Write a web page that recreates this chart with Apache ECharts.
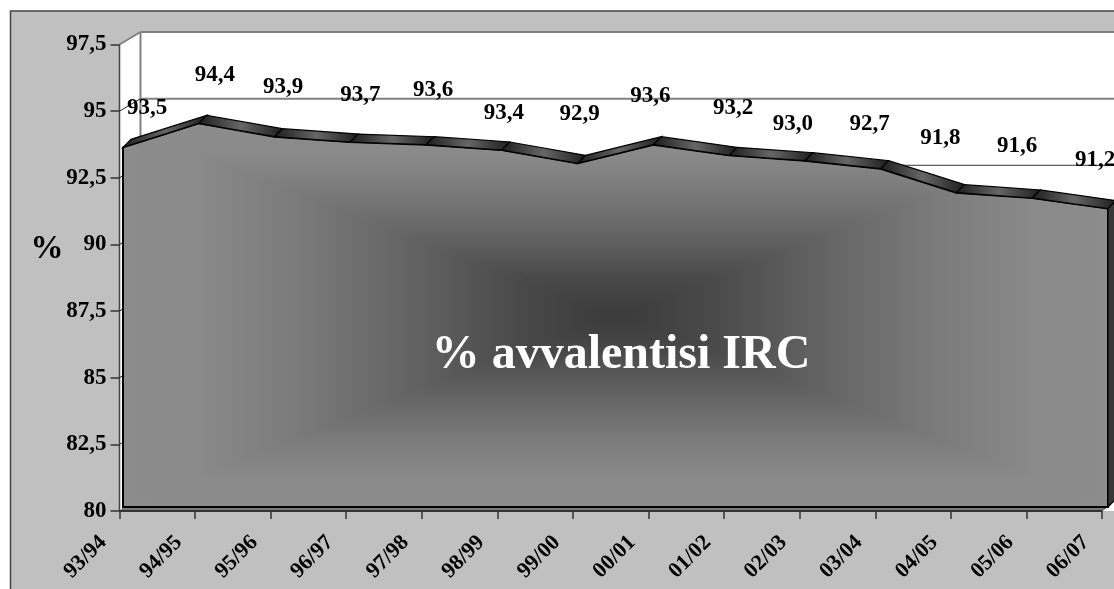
<!DOCTYPE html>
<html><head><meta charset="utf-8">
<style>html,body{margin:0;padding:0;background:#fff}#c{width:1114px;height:589px}</style>
<script src="https://cdn.jsdelivr.net/npm/echarts@6/dist/echarts.min.js"></script>
</head><body><div id="c"></div>
<script>
const categories = ['93/94','94/95','95/96','96/97','97/98','98/99','99/00','00/01','01/02','02/03','03/04','04/05','05/06','06/07'];
const values = [93.5,94.4,93.9,93.7,93.6,93.4,92.9,93.6,93.2,93.0,92.7,91.8,91.6,91.2];
const yTicks = [80,82.5,85,87.5,90,92.5,95,97.5];
const seriesName = '% avvalentisi IRC';
const axisTitle = '%';
// label placement (hand-moved in the original), separate from the data
const labelOffsets = [[24,-39],[16,-48],[8.5,-50],[10,-47],[7,-55],[2,-37],[2,-49],[-3,-49],[4,-47],[-12,-37],[-11,-45],[-16,-55],[-15,-52],[-13,-49]];

const FONT = '"Liberation Serif","Times New Roman",serif';
const WALL = [21,-12.5], DEPTH = [8,-8];
const fmt = v => String(v).replace('.',',');
const chart = echarts.init(document.getElementById('c'), null, {renderer:'canvas'});

function wallItem(p, api){
  const W = api.getWidth();
  const top = api.coord([0,97.5]), bot = api.coord([0,80]);
  const wx = top[0]+WALL[0];
  const ch = [
    {type:'polygon',shape:{points:[[top[0],top[1]],[wx,top[1]+WALL[1]],[W,top[1]+WALL[1]],[W,bot[1]],[top[0],bot[1]]]},style:{fill:'#fff'}},
    {type:'line',shape:{x1:wx,y1:top[1]+WALL[1],x2:wx,y2:bot[1]+WALL[1]},style:{stroke:'#808080',lineWidth:2}},
    {type:'line',shape:{x1:top[0],y1:top[1],x2:top[0],y2:bot[1]},style:{stroke:'#444',lineWidth:1.5}}
  ];
  yTicks.forEach(t=>{
    const c = api.coord([0,t]);
    const strong = t===97.5;
    ch.push({type:'line',shape:{x1:c[0],y1:c[1],x2:wx,y2:c[1]+WALL[1]},style:{stroke:strong?'#808080':'#222',lineWidth:strong?2:1}});
    ch.push({type:'line',shape:{x1:wx,y1:c[1]+WALL[1],x2:W,y2:c[1]+WALL[1]},style:{stroke:t>=95?'#808080':'#333',lineWidth:t>=95?2:1}});
  });
  return {type:'group',children:ch};
}
function floorItem(p, api){
  const a = api.coord([0,80]), b = api.coord([categories.length-1,80]);
  return {type:'group',children:[
    {type:'polygon',shape:{points:[[a[0],a[1]],[b[0],b[1]],[b[0]+6,b[1]-4],[a[0]+4,a[1]-4]]},style:{fill:'#777'}},
    {type:'line',shape:{x1:a[0],y1:a[1],x2:b[0],y2:b[1]},style:{stroke:'#333',lineWidth:2}},
    {type:'line',shape:{x1:b[0],y1:b[1],x2:b[0]+6,y2:b[1]-5},style:{stroke:'#555',lineWidth:1}}
  ]};
}
function faceItem(p, api){
  const tops = values.map((v,i)=>api.coord([i,v]));
  const l = tops[0][0], r = tops[tops.length-1][0], b = api.coord([0,80])[1];
  const t = Math.min(...tops.map(q=>q[1]));
  const cx = (l+r)/2, cy = (t+b)/2;
  const stops=[{offset:0,color:'#8c8c8c'},{offset:.15,color:'#8a8a8a'},{offset:.36,color:'#7a7a7a'},{offset:.56,color:'#666'},{offset:.8,color:'#4a4a4a'},{offset:1,color:'#3a3a3a'}];
  const grad=(x,y,x2,y2)=>({type:'linear',x,y,x2,y2,colorStops:stops});
  const tri=(pts,g)=>({type:'polygon',shape:{points:pts},style:{fill:g,stroke:g,lineWidth:1}});
  const outline = [...tops,[r,b],[l,b]];
  const clipPts = outline.map(q=>q.slice());
  return {type:'group',children:[
    {type:'group',clipPath:{type:'polygon',shape:{points:clipPts}},children:[
      tri([[l,t],[r,t],[cx,cy]],grad(0,0,0,1)),
      tri([[l,b],[r,b],[cx,cy]],grad(0,1,0,0)),
      tri([[l,t],[l,b],[cx,cy]],grad(0,0,1,0)),
      tri([[r,t],[r,b],[cx,cy]],grad(1,0,0,0))
    ]},
    {type:'polygon',shape:{points:outline},style:{fill:'none',stroke:'#000',lineWidth:2}}
  ]};
}
function ribbonItem(p, api){
  const tops = values.map((v,i)=>api.coord([i,v]));
  const last = tops[tops.length-1], b = api.coord([0,80])[1];
  const ch = [];
  for(let i=0;i<tops.length-1;i++){
    const a=tops[i], c=tops[i+1];
    ch.push({type:'polygon',shape:{points:[a,[a[0]+DEPTH[0],a[1]+DEPTH[1]],[c[0]+DEPTH[0],c[1]+DEPTH[1]],c]},
      style:{fill:{type:'linear',x:0,y:0,x2:1,y2:0,colorStops:[{offset:0,color:'#1c1c1c'},{offset:.5,color:'#666'},{offset:1,color:'#1c1c1c'}]},stroke:'#000',lineWidth:1.2}});
  }
  ch.push({type:'polygon',shape:{points:[last,[last[0]+DEPTH[0],last[1]+DEPTH[1]],[last[0]+DEPTH[0],b+DEPTH[1]],[last[0],b]]},
    style:{fill:'#383838',stroke:'#000',lineWidth:1.2}});
  return {type:'group',children:ch};
}
function labelItem(p, api){
  const i = api.value(0), v = api.value(1);
  const c = api.coord([i,v]), o = labelOffsets[i];
  return {type:'text',x:c[0]+o[0],y:c[1]+o[1],style:{text:v.toFixed(1).replace('.',','),font:'bold 23px '+FONT,fill:'#000',align:'center',verticalAlign:'middle'}};
}
const oneItem = [[0,80]];
const custom = (render,z,xi,data) => ({type:'custom',renderItem:render,data:data||oneItem,xAxisIndex:xi,yAxisIndex:xi,z,clip:false,silent:true,animation:false,encode:{x:0,y:1}});

chart.setOption({
  animation:false,
  backgroundColor:'#fff',
  graphic:[
    {type:'rect',z:-10,shape:{x:10.5,y:11,width:1200,height:700},style:{fill:'#c0c0c0',stroke:'#444',lineWidth:1.5}},
    {type:'text',z:100,x:47,y:249,style:{text:axisTitle,font:'bold 33px '+FONT,fill:'#000',align:'center',verticalAlign:'middle'}},
    {type:'text',z:100,x:621,y:356,style:{text:seriesName,font:'bold 48px '+FONT,fill:'#fff',align:'center',verticalAlign:'middle'}}
  ],
  grid:[
    {left:119.5,top:44.5,width:982.5,height:466.5,containLabel:false},
    {left:123,top:40.8,width:985,height:466.2,containLabel:false}
  ],
  xAxis:[
    {type:'category',gridIndex:0,data:categories,boundaryGap:false,z:5,
      axisLine:{show:false},
      axisTick:{show:true,length:8,alignWithLabel:true,lineStyle:{color:'#333',width:1.5}},
      axisLabel:{interval:0,rotate:45,margin:12,padding:[0,23,0,0],fontFamily:FONT,fontWeight:'bold',fontSize:22,color:'#000'},
      splitLine:{show:false}},
    {type:'category',gridIndex:1,data:categories,boundaryGap:false,show:false}
  ],
  yAxis:[
    {type:'value',gridIndex:0,min:80,max:97.5,interval:2.5,z:5,
      axisLine:{show:false},
      axisTick:{show:true,length:9,lineStyle:{color:'#333',width:1.5}},
      axisLabel:{margin:13,formatter:fmt,fontFamily:FONT,fontWeight:'bold',fontSize:23,color:'#000'},
      splitLine:{show:false}},
    {type:'value',gridIndex:1,min:80,max:97.5,interval:2.5,show:false}
  ],
  series:[
    custom(wallItem,1,0),
    custom(floorItem,2,0),
    custom(faceItem,3,1),
    custom(ribbonItem,4,1),
    custom(labelItem,20,1,values.map((v,i)=>[i,v]))
  ]
});
</script></body></html>
